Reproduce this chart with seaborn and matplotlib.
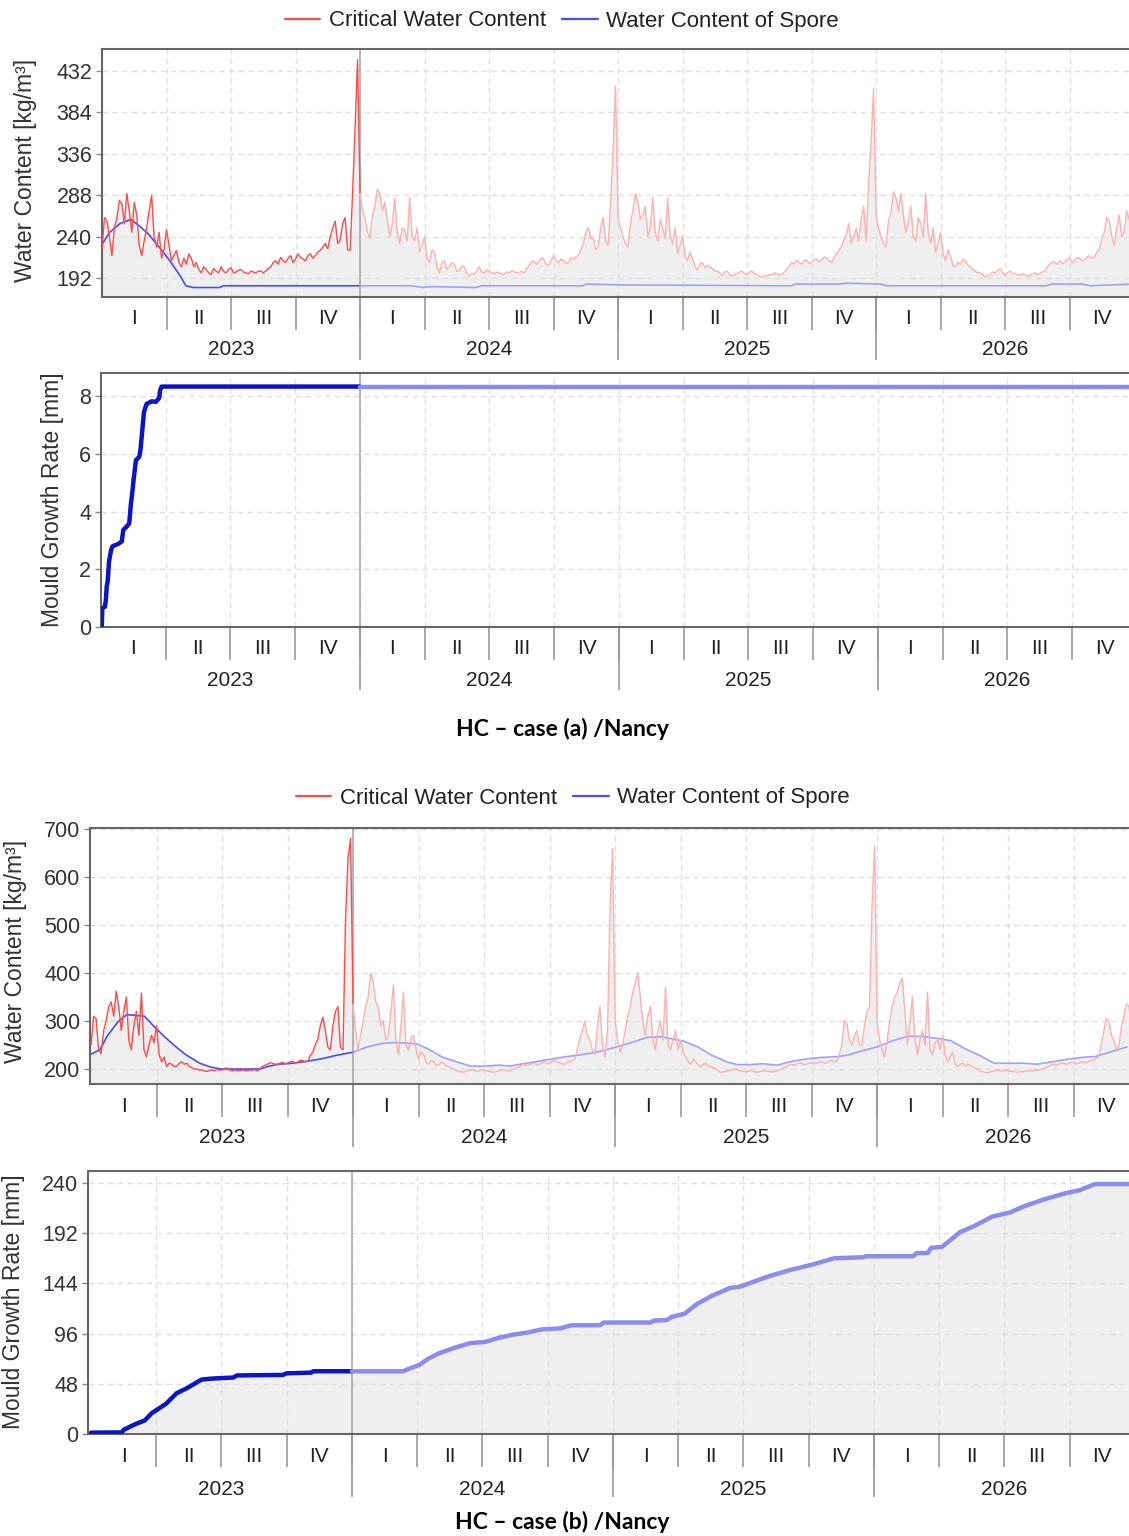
import numpy as np
import matplotlib
matplotlib.use("Agg")
import matplotlib.pyplot as plt
import seaborn as sns
from matplotlib.lines import Line2D

# ---------------- data ----------------
years = ["2023", "2024", "2025", "2026"]
quarters = ["I", "II", "III", "IV"]

# case (a): critical water content, two samples per week [kg/m3]
red_a_2023 = [225, 262, 258, 240, 218, 250, 262, 282, 278, 255, 290, 270, 245, 280, 265, 230,
              218, 235, 250, 270, 288, 240, 228, 245, 215, 225, 248, 230, 212, 218, 224, 210,
              205, 215, 208, 220, 215, 205, 210, 202, 198, 205, 202, 198, 196, 203, 200, 198,
              205, 200, 198, 202, 204, 198, 199, 201, 202, 199, 198, 197, 200, 199, 198, 200,
              200, 198, 200, 203, 205, 210, 212, 208, 216, 212, 210, 215, 218, 210, 214, 220,
              216, 214, 212, 218, 220, 215, 218, 222, 224, 228, 232, 226, 240, 250, 258, 232,
              236, 255, 262, 225, 224, 290, 365, 445]
red_a_2024 = [290, 270, 262, 245, 238, 265, 275, 295, 290, 270, 280, 260, 240, 255, 285, 245,
              232, 250, 248, 235, 285, 240, 235, 250, 222, 230, 240, 215, 210, 225, 222, 205,
              198, 210, 212, 202, 205, 210, 208, 200, 200, 206, 205, 198, 194, 197, 196, 200,
              205, 199, 198, 201, 200, 198, 197, 199, 198, 197, 196, 199, 198, 200, 200, 198,
              198, 200, 198, 202, 206, 210, 212, 208, 210, 215, 214, 208, 207, 212, 218, 212,
              210, 214, 212, 209, 210, 216, 214, 217, 218, 225, 232, 245, 250, 238, 238, 225,
              228, 250, 262, 235, 230, 280, 340, 415]
red_a_2025 = [260, 250, 240, 232, 228, 255, 270, 290, 280, 260, 265, 275, 240, 250, 285, 245,
              235, 260, 250, 238, 285, 240, 232, 250, 220, 230, 240, 218, 212, 222, 215, 205,
              202, 208, 210, 204, 207, 205, 203, 200, 200, 198, 195, 199, 200, 196, 194, 196,
              197, 199, 200, 197, 196, 199, 200, 197, 196, 194, 193, 195, 194, 196, 196, 198,
              197, 195, 196, 199, 202, 206, 210, 208, 213, 210, 208, 212, 213, 209, 210, 214,
              214, 211, 213, 216, 216, 212, 210, 215, 220, 224, 228, 236, 242, 255, 232, 240,
              250, 235, 260, 275, 235, 300, 350, 412]
red_a_2026 = [265, 250, 240, 232, 228, 258, 268, 292, 285, 270, 290, 265, 245, 258, 275, 240,
              235, 262, 255, 240, 290, 245, 232, 250, 222, 232, 245, 220, 212, 225, 218, 206,
              205, 210, 208, 214, 212, 207, 205, 202, 200, 198, 198, 196, 193, 195, 196, 199,
              198, 201, 203, 198, 195, 198, 200, 197, 197, 196, 195, 197, 196, 194, 195, 197,
              198, 196, 197, 199, 200, 205, 208, 211, 210, 208, 212, 209, 210, 214, 215, 210,
              212, 216, 215, 212, 213, 216, 218, 215, 216, 222, 225, 238, 245, 262, 258, 240,
              230, 250, 265, 240, 245, 270, 260, 250]

# case (a): water content of spore (time in years from 2023-01-01)
blue_a_t = [0.000, 0.030, 0.069, 0.111, 0.138, 0.180, 0.221, 0.263, 0.304, 0.325, 0.353, 0.456, 0.470, 1.000,
            1.200, 1.245, 1.270, 1.450, 1.470, 1.860, 1.880, 2.000, 2.670, 2.690, 2.860, 2.880, 3.020, 3.040,
            3.660, 3.680, 3.800, 3.830, 3.990]
blue_a_v = [231, 245, 255, 260, 254, 243, 228, 212, 194, 183, 181, 181, 183, 183, 183, 181, 182, 181, 183, 183,
            185, 184, 183, 185, 185, 186, 185, 183, 183, 185, 185, 183, 185]

# case (a): mould growth [mm]
mould_a_t = [0.000, 0.003, 0.005, 0.015, 0.019, 0.022, 0.026, 0.031, 0.039, 0.045, 0.067, 0.080, 0.086, 0.099,
             0.109, 0.115, 0.121, 0.127, 0.135, 0.148, 0.153, 0.161, 0.166, 0.176, 0.196, 0.212, 0.225, 0.228,
             0.234, 1.000, 2.000, 3.000, 3.990]
mould_a_v = [0.0, 0.0, 0.65, 0.7, 0.95, 1.4, 1.6, 2.27, 2.67, 2.8, 2.88, 2.96, 3.36, 3.48, 3.59, 4.22, 4.68, 5.2,
             5.78, 5.9, 6.18, 6.98, 7.45, 7.73, 7.82, 7.8, 7.94, 8.19, 8.33, 8.33, 8.33, 8.33, 8.33]

# case (b): critical water content, two samples per week [kg/m3]
red_b_2023 = [250, 310, 305, 240, 232, 280, 300, 330, 340, 310, 362, 330, 280, 320, 350, 260,
              240, 290, 320, 270, 358, 240, 225, 250, 270, 255, 290, 230, 215, 225, 205, 212,
              210, 205, 206, 212, 215, 210, 212, 205, 203, 200, 200, 198, 198, 196, 195, 197,
              198, 196, 200, 197, 198, 201, 202, 198, 196, 198, 197, 196, 198, 197, 196, 198,
              197, 199, 196, 200, 205, 208, 210, 213, 212, 210, 210, 212, 214, 211, 212, 215,
              216, 213, 214, 218, 218, 215, 216, 228, 235, 250, 262, 290, 308, 280, 245, 240,
              290, 320, 330, 245, 240, 510, 640, 680]
red_b_2024 = [335, 280, 240, 270, 300, 330, 350, 400, 380, 340, 330, 290, 300, 260, 270, 320,
              375, 260, 230, 290, 360, 250, 240, 265, 270, 240, 220, 235, 230, 215, 210, 218,
              215, 208, 208, 214, 212, 206, 205, 202, 200, 197, 195, 194, 193, 196, 197, 199,
              198, 195, 196, 198, 198, 196, 195, 194, 193, 195, 196, 198, 198, 196, 196, 199,
              200, 203, 205, 208, 210, 207, 208, 211, 212, 209, 210, 213, 215, 211, 212, 216,
              218, 214, 213, 211, 210, 214, 215, 218, 220, 240, 265, 280, 300, 270, 260, 240,
              230, 290, 330, 250, 225, 280, 540, 660]
red_b_2025 = [300, 260, 235, 250, 280, 310, 330, 360, 380, 400, 350, 300, 270, 310, 330, 260,
              240, 280, 300, 260, 370, 250, 240, 260, 280, 240, 260, 235, 225, 215, 210, 220,
              215, 208, 205, 210, 212, 206, 205, 202, 200, 196, 192, 194, 195, 197, 198, 199,
              200, 197, 196, 195, 194, 196, 197, 195, 193, 194, 195, 196, 196, 195, 194, 195,
              195, 198, 200, 203, 205, 208, 210, 207, 210, 212, 212, 209, 210, 212, 213, 211,
              212, 214, 215, 212, 213, 216, 218, 215, 216, 230, 250, 300, 295, 260, 250, 270,
              280, 250, 250, 290, 320, 330, 540, 665]
red_b_2026 = [295, 260, 240, 225, 260, 300, 330, 350, 360, 380, 390, 320, 250, 300, 350, 260,
              230, 260, 280, 250, 360, 240, 230, 255, 260, 240, 270, 230, 215, 225, 235, 210,
              205, 210, 212, 206, 210, 207, 205, 202, 200, 196, 194, 193, 192, 194, 195, 197,
              198, 196, 196, 198, 197, 195, 195, 194, 193, 195, 194, 196, 195, 197, 196, 198,
              198, 199, 200, 203, 205, 208, 210, 207, 210, 212, 212, 210, 211, 214, 213, 211,
              212, 215, 214, 213, 215, 218, 218, 222, 225, 250, 280, 305, 300, 270, 260, 240,
              250, 290, 310, 336, 330, 280, 250, 240]

# case (b): water content of spore
blue_b_t = [0.000, 0.034, 0.061, 0.102, 0.136, 0.170, 0.204, 0.238, 0.279, 0.320, 0.361, 0.415, 0.456, 0.497,
            0.605, 0.646, 0.673, 0.714, 0.769, 0.823, 0.878, 0.932, 1.000, 1.054, 1.109, 1.150, 1.204, 1.245,
            1.286, 1.340, 1.395, 1.449, 1.503, 1.558, 1.599, 1.639, 1.694, 1.748, 1.792, 1.874, 1.930, 2.000,
            2.068, 2.123, 2.178, 2.206, 2.261, 2.316, 2.371, 2.426, 2.468, 2.509, 2.564, 2.619, 2.674, 2.730,
            2.785, 2.854, 2.895, 2.950, 3.000, 3.061, 3.116, 3.171, 3.226, 3.281, 3.337, 3.392, 3.447, 3.502,
            3.557, 3.612, 3.668, 3.723, 3.778, 3.833, 3.888, 3.954]
blue_b_v = [231, 240, 268, 298, 313, 312, 310, 290, 268, 248, 230, 212, 204, 200, 200, 200, 205, 210, 212, 216,
            221, 228, 235, 246, 253, 255, 254, 252, 242, 225, 215, 206, 206, 208, 206, 210, 215, 220, 224, 230,
            235, 245, 256, 266, 267, 264, 258, 246, 228, 215, 209, 209, 211, 208, 216, 221, 224, 226, 230, 239,
            246, 259, 268, 268, 264, 259, 242, 228, 212, 212, 212, 210, 215, 220, 224, 226, 235, 246]

# case (b): mould growth [mm]
mould_b_t = [0.000, 0.118, 0.125, 0.166, 0.206, 0.233, 0.288, 0.328, 0.369, 0.423, 0.464, 0.545, 0.559, 0.735,
             0.749, 0.844, 0.851, 1.000, 1.197, 1.224, 1.258, 1.292, 1.332, 1.387, 1.455, 1.509, 1.563, 1.617,
             1.672, 1.726, 1.799, 1.840, 1.950, 1.964, 2.143, 2.157, 2.206, 2.226, 2.274, 2.323, 2.378, 2.447,
             2.488, 2.543, 2.599, 2.681, 2.764, 2.847, 2.957, 2.971, 3.150, 3.164, 3.206, 3.219, 3.261, 3.330,
             3.385, 3.454, 3.523, 3.578, 3.647, 3.730, 3.786, 3.847, 3.990]
mould_b_v = [1.3, 1.5, 4, 9, 13, 20, 29, 39, 44, 52, 53, 54, 56, 56.5, 58, 58.7, 60, 60, 60, 63, 66, 72, 77, 82,
             87, 88, 92, 95, 97, 100, 101, 104, 104, 106.6, 106.6, 108.5, 109, 112, 115, 124.5, 132, 139.5, 141,
             146, 151, 157, 162, 168, 169, 170, 170, 173, 173, 178, 179, 193, 199, 208, 212, 218, 224, 230, 233,
             239, 239]

yticks_wc_a = [192, 240, 288, 336, 384, 432]
yticks_mg_a = [0, 2, 4, 6, 8]
yticks_wc_b = [200, 300, 400, 500, 600, 700]
yticks_mg_b = [0, 48, 96, 144, 192, 240]

# ---------------- style ----------------
sns.set_style("white")
plt.rcParams['font.family'] = ['Liberation Sans', 'DejaVu Sans']

RED_D, RED_L = "#ff4a4a", "#ffb0b0"
BLUE_D, BLUE_L = "#4a4aff", "#a0a0ff"
MOULD_D, MOULD_L = "#0a14c8", "#8c8cf0"
FILL = "#efefef"
TXT = "#222222"

W, H = 1129, 1536
fig = plt.figure(figsize=(W / 100, H / 100), dpi=100)
fig.patch.set_facecolor("white")


def add_ax(left, top, bottom, right=1131):
    return fig.add_axes([left / W, 1 - bottom / H, (right - left) / W, (bottom - top) / H])


def style(ax, xlim, ylim, yticks, qpad, ypad):
    ax.set_xlim(*xlim)
    ax.set_ylim(*ylim)
    ax.set_yticks(yticks)
    ax.set_yticklabels([str(v) for v in yticks])
    ax.tick_params(axis='y', length=4, width=1, color='#888888', labelsize=15.5,
                   labelcolor='#333333', pad=3, left=True)
    qb = [k / 4 for k in range(1, 16)]
    ax.set_xticks(qb)
    ax.set_xticklabels([''] * len(qb))
    ax.tick_params(axis='x', which='major', length=33 * 0.72, width=1.2, color='#999999',
                   direction='out', bottom=True)
    qc = [(k + 0.5) / 4 for k in range(16)]
    ax.set_xticks(qc, minor=True)
    ax.set_xticklabels(quarters * 4, minor=True)
    ax.tick_params(axis='x', which='minor', length=0, pad=qpad, labelsize=15, labelcolor=TXT)
    ax.set_axisbelow('line')
    ax.grid(True, which='major', axis='both', linestyle=(0, (4, 3)), color='#e0e0e0', linewidth=1)
    ax.axvline(1.0, color='#aaaaaa', lw=1.2, zorder=1.8)
    for s in ax.spines.values():
        s.set_color('#666666')
        s.set_linewidth(1.5)
    sec = ax.secondary_xaxis('bottom')
    sec.set_xticks([1, 2, 3])
    sec.set_xticklabels(['', '', ''])
    sec.tick_params(which='major', length=63 * 0.72, width=1.2, color='#999999', direction='out')
    sec.set_xticks([0.5, 1.5, 2.5, 3.5], minor=True)
    sec.set_xticklabels(years, minor=True)
    sec.tick_params(which='minor', length=0, pad=ypad, labelsize=15, labelcolor=TXT)
    sec.spines['bottom'].set_visible(False)


def split_line(ax, t, v, cd, cl, lw):
    t = np.asarray(t, float)
    v = np.asarray(v, float)
    m1 = t <= 1.0 + 1e-9
    m2 = t >= 1.0 - 1e-9
    sns.lineplot(x=t[m1], y=v[m1], ax=ax, color=cd, linewidth=lw, estimator=None, sort=False, zorder=3)
    sns.lineplot(x=t[m2], y=v[m2], ax=ax, color=cl, linewidth=lw, estimator=None, sort=False, zorder=3)


# ---------------- case (a) ----------------
red_a = np.array(red_a_2023 + red_a_2024 + red_a_2025 + red_a_2026, float)
t_a = np.arange(len(red_a)) / 104.0

ax1 = add_ax(102, 49, 297)
ylim1 = (170, 457.5)
ax1.fill_between(t_a, ylim1[0], red_a, color=FILL, lw=0, zorder=1)
split_line(ax1, blue_a_t, blue_a_v, BLUE_D, BLUE_L, 1.2)
split_line(ax1, t_a, red_a, RED_D, RED_L, 1.0)
style(ax1, (0, 3.988), ylim1, yticks_wc_a, qpad=9, ypad=31)

ax2 = add_ax(101, 373, 627)
split_line(ax2, mould_a_t, mould_a_v, MOULD_D, MOULD_L, 3.2)
style(ax2, (0, 3.977), (0, 8.8), yticks_mg_a, qpad=9, ypad=32)

# ---------------- case (b) ----------------
red_b = np.array(red_b_2023 + red_b_2024 + red_b_2025 + red_b_2026, float)
t_b = np.arange(len(red_b)) / 104.0

ax3 = add_ax(90, 828, 1084)
ylim3 = (168.75, 702)
ax3.fill_between(t_b, ylim3[0], red_b, color=FILL, lw=0, zorder=1)
ax3.fill_between(blue_b_t, ylim3[0], blue_b_v, color=FILL, lw=0, zorder=1)
split_line(ax3, blue_b_t, blue_b_v, BLUE_D, BLUE_L, 1.2)
split_line(ax3, t_b, red_b, RED_D, RED_L, 1.0)
style(ax3, (-0.004, 3.969), ylim3, yticks_wc_b, qpad=9, ypad=32)

ax4 = add_ax(88, 1171, 1434)
ax4.fill_between(mould_b_t, 0, mould_b_v, color=FILL, lw=0, zorder=1)
split_line(ax4, mould_b_t, mould_b_v, MOULD_D, MOULD_L, 3.2)
style(ax4, (-0.0115, 3.985), (0, 251.5), yticks_mg_b, qpad=9.5, ypad=33)

for ax in (ax1, ax2, ax3, ax4):
    ax.set_xlabel('')
    ax.set_ylabel('')

# ---------------- texts ----------------
lab_kw = dict(rotation=90, ha='center', va='center', fontsize=16.5, color='#333333')
fig.text(26 / W, 1 - 170 / H, 'Water Content [kg/m³]', **lab_kw)
fig.text(53 / W, 1 - 500 / H, 'Mould Growth Rate [mm]', **lab_kw)
fig.text(16 / W, 1 - 951 / H, 'Water Content [kg/m³]', **lab_kw)
fig.text(14 / W, 1 - 1302 / H, 'Mould Growth Rate [mm]', **lab_kw)

handles = [Line2D([], [], color=RED_D, lw=1.6), Line2D([], [], color=BLUE_D, lw=1.6)]
names = ['Critical Water Content', 'Water Content of Spore']
for yc, xc in ((21, 562), (798, 573)):
    fig.legend(handles, names, loc='center', bbox_to_anchor=(xc / W, 1 - yc / H), ncol=2, frameon=False,
               fontsize=16, handlelength=1.6, handletextpad=0.4, columnspacing=0.7, labelcolor=TXT)

t_kw = dict(ha='center', va='center', fontsize=16.5, fontweight='bold', color='black',
            family=['Lato', 'DejaVu Sans'])
fig.text(562 / W, 1 - 729 / H, 'HC – case (a) /Nancy', **t_kw)
fig.text(562 / W, 1 - 1522 / H, 'HC – case (b) /Nancy', **t_kw)

fig.savefig('out.png', dpi=100, facecolor='white')
